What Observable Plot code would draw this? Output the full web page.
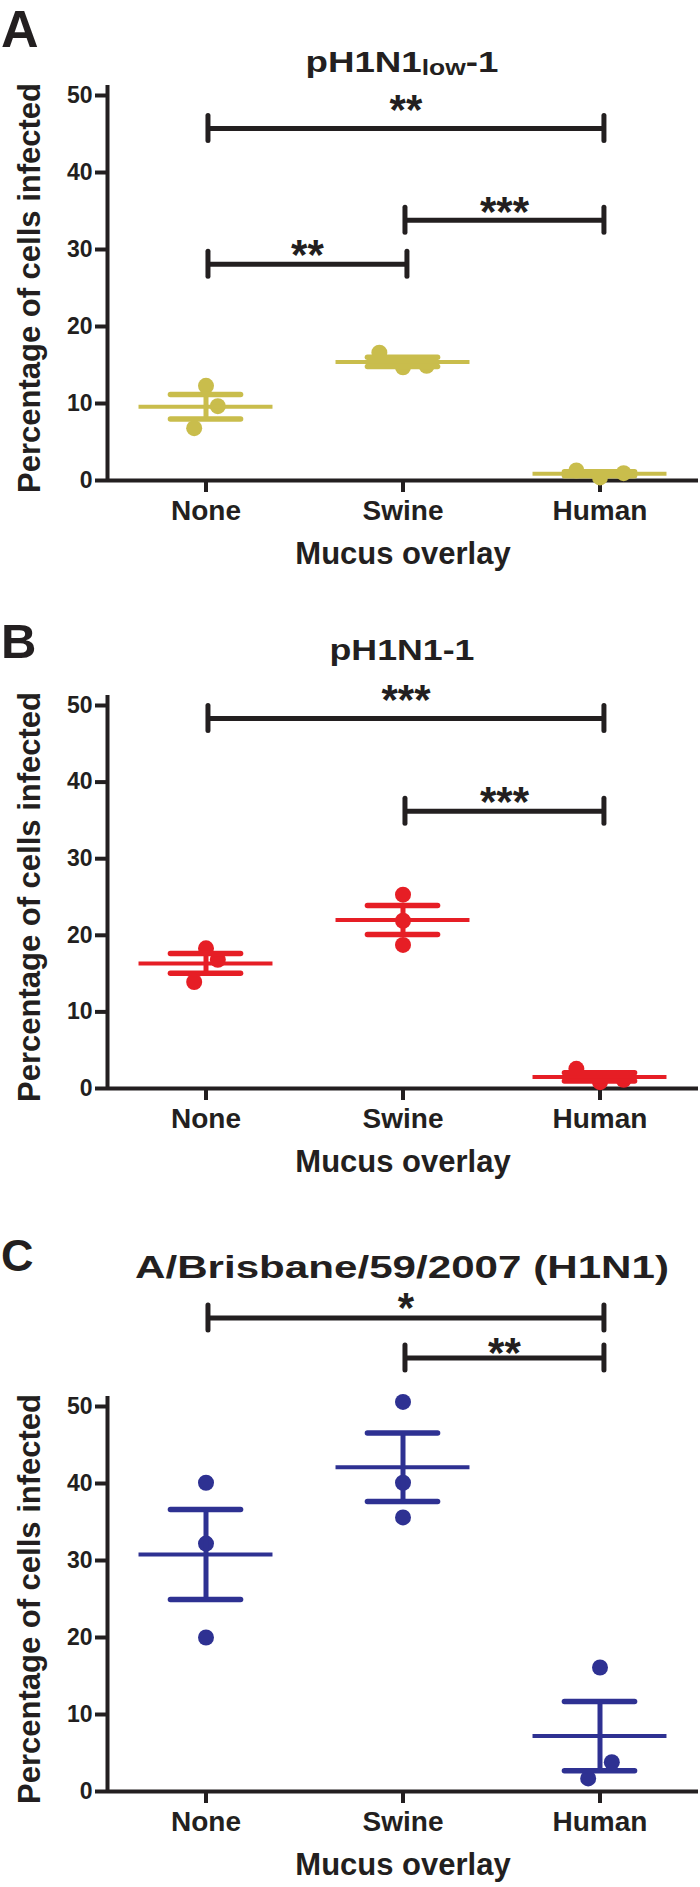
<!DOCTYPE html>
<html><head><meta charset="utf-8">
<script src="https://cdn.jsdelivr.net/npm/d3@7"></script>
<script src="https://cdn.jsdelivr.net/npm/@observablehq/plot@0.6"></script>
<style>
html,body{margin:0;padding:0;background:#fff;}
#chart{width:700px;}
#chart svg{display:block;}
</style></head><body><div id="chart"></div>
<script>
// ---- data ----
const categories = ["None", "Swine", "Human"];
const yTicks = [0, 10, 20, 30, 40, 50];
const yLabel = "Percentage of cells infected";
const xLabel = "Mucus overlay";

// Panel A: pH1N1low-1
const noneA = [12.3, 9.65, 6.8];
const swineA = [16.6, 14.7, 14.9];
const humanA = [1.3, 0.4, 0.95];
const sigA = [
  {from: "None", to: "Human", y: 45.7, labelY: 49.35, label: "**"},
  {from: "None", to: "Swine", y: 28.1, labelY: 30.5, label: "**"},
  {from: "Swine", to: "Human", y: 33.8, labelY: 36.1, label: "***"}
];
// Panel B: pH1N1-1
const noneB = [18.3, 16.8, 13.9];
const swineB = [25.3, 21.9, 18.75];
const humanB = [2.57, 0.83, 1.13];
const sigB = [
  {from: "None", to: "Human", y: 48.3, labelY: 52.0, label: "***"},
  {from: "Swine", to: "Human", y: 36.2, labelY: 38.7, label: "***"}
];
// Panel C: A/Brisbane/59/2007 (H1N1)
const noneC = [40.1, 32.2, 20.0];
const swineC = [50.6, 40.1, 35.6];
const humanC = [16.1, 3.8, 1.7];
const sigC = [
  {from: "None", to: "Human", y: 61.5, labelY: 64.0, label: "*"},
  {from: "Swine", to: "Human", y: 56.3, labelY: 58.2, label: "**"}
];

// ---- drawing ----
const DARK = "#231f20";
const FONT = "'Liberation Sans', Arial, Helvetica, sans-serif";

// GraphPad-like horizontal spreading of overlapping points (in slots)
function dodge(vals, ppu) {
  const idx = d3.range(vals.length).sort((a, b) => vals[b] - vals[a]);
  const off = new Array(vals.length).fill(0);
  const T = 23.5;
  const clusters = [];
  let cur = [idx[0]];
  for (let k = 1; k < idx.length; k++) {
    if ((vals[idx[k - 1]] - vals[idx[k]]) * ppu < T) cur.push(idx[k]);
    else { clusters.push(cur); cur = [idx[k]]; }
  }
  clusters.push(cur);
  for (const c of clusters) {
    let pattern;
    if (c.length === 1) pattern = [0];
    else if (c.length === 2) pattern = [0.5, -0.5];
    else {
      const span = (vals[c[0]] - vals[c[c.length - 1]]) * ppu;
      pattern = span < T ? [-1, 1, 0] : [0, 0.5, -0.5];
    }
    c.forEach((i, j) => off[i] = pattern[j] ?? 0);
  }
  return off;
}

function panel(cfg) {
  const {groups, sig, color, height, marginTop, marginBottom} = cfg;
  const ppu = (height - marginTop - marginBottom) / 50;
  const slot = 0.12, meanHalf = 0.34, capHalf = 0.178;
  const points = [], stats = [];
  groups.forEach((vals, i) => {
    const off = dodge(vals, ppu);
    vals.forEach((v, j) => points.push({x: i + off[j] * slot, y: v}));
    const mean = d3.mean(vals), sem = d3.deviation(vals) / Math.sqrt(vals.length);
    stats.push({i, mean, lo: mean - sem, hi: mean + sem});
  });
  const caps = stats.flatMap(s => [{i: s.i, y: s.lo}, {i: s.i, y: s.hi}]);
  const ci = c => categories.indexOf(c);
  const capH = 12.5 / ppu;
  const ends = sig.flatMap(s => [{x: ci(s.from) + 0.01, y: s.y}, {x: ci(s.to) + 0.02, y: s.y}]);

  const plot = Plot.plot({
    width: 700, height, marginTop, marginBottom, marginLeft: 107, marginRight: 2,
    style: {fontFamily: FONT, color: DARK, background: "#fff", overflow: "visible"},
    x: {domain: [-0.5, 2.5], axis: null},
    y: {domain: [0, 50], axis: null},
    marks: [
      Plot.ruleY([0], {stroke: DARK, strokeWidth: 4}),
      Plot.ruleX([-0.5], {y1: 0, y2: 51.3, stroke: DARK, strokeWidth: 4}),
      Plot.axisY({ticks: yTicks, tickSize: 12, tickPadding: 3, fontSize: 23, fontWeight: "bold",
                  strokeWidth: 4, label: null}),
      Plot.axisX({ticks: [0, 1, 2], tickFormat: i => categories[i], tickSize: 12, tickPadding: 8,
                  fontSize: 28, fontWeight: "bold", strokeWidth: 4, label: null}),
      Plot.text([yLabel], {text: d => d, frameAnchor: "left", textAnchor: "middle", lineAnchor: "middle",
                  rotate: -90, dx: -77, fontSize: 31, fontWeight: "bold", fill: DARK}),
      Plot.text([xLabel], {text: d => d, frameAnchor: "bottom", textAnchor: "middle", lineAnchor: "middle",
                  dy: 74, fontSize: 31, fontWeight: "bold", fill: DARK}),
      // data
      Plot.dot(points, {x: "x", y: "y", r: 8, fill: color, stroke: "none"}),
      Plot.ruleY(stats, {y: "mean", x1: d => d.i - meanHalf, x2: d => d.i + meanHalf,
                  stroke: color, strokeWidth: 4}),
      Plot.ruleX(stats, {x: "i", y1: "lo", y2: "hi", stroke: color, strokeWidth: 5}),
      Plot.ruleY(caps, {y: "y", x1: d => d.i - capHalf, x2: d => d.i + capHalf,
                  stroke: color, strokeWidth: 5.5, strokeLinecap: "round"}),
      // significance brackets
      Plot.ruleY(sig, {y: "y", x1: d => ci(d.from) + 0.01, x2: d => ci(d.to) + 0.02,
                  stroke: DARK, strokeWidth: 5}),
      Plot.ruleX(ends, {x: "x", y1: d => d.y - capH, y2: d => d.y + capH,
                  stroke: DARK, strokeWidth: 5, strokeLinecap: "round"}),
      Plot.text(sig, {x: d => (ci(d.from) + ci(d.to)) / 2 + 0.015, y: "labelY", text: "label",
                  fontSize: 42, fontWeight: "bold", dy: 10, fill: DARK})
    ]
  });

  const svg = d3.select(plot);
  svg.append("text").attr("x", 1).attr("y", cfg.letterBaseline)
    .attr("text-anchor", "start")
    .attr("font-size", cfg.letterSize).attr("font-weight", "bold").attr("fill", DARK)
    .attr("font-family", FONT).text(cfg.letter);
  const t = svg.append("text").attr("x", 402).attr("y", cfg.titleBaseline)
    .attr("text-anchor", "middle").attr("font-size", cfg.titleSize).attr("font-weight", "bold")
    .attr("fill", DARK).attr("font-family", FONT)
    .attr("textLength", cfg.titleLength).attr("lengthAdjust", "spacingAndGlyphs");
  cfg.title.forEach(p => {
    const ts = t.append("tspan").text(p.text);
    if (p.sub) ts.attr("font-size", cfg.titleSize * 0.72).attr("dy", 3);
    else if (p.after) ts.attr("dy", -3);
  });
  return plot;
}

const chart = document.getElementById("chart");
chart.append(panel({
  groups: [noneA, swineA, humanA], sig: sigA, color: "#c9bd4c",
  height: 585, marginTop: 95, marginBottom: 105,
  letter: "A", letterBaseline: 47, letterSize: 52,
  title: [{text: "pH1N1"}, {text: "low", sub: true}, {text: "-1", after: true}],
  titleBaseline: 72, titleSize: 30, titleLength: 193
}));
chart.append(panel({
  groups: [noneB, swineB, humanB], sig: sigB, color: "#e61e25",
  height: 605, marginTop: 120, marginBottom: 102,
  letter: "B", letterBaseline: 73, letterSize: 49,
  title: [{text: "pH1N1-1"}],
  titleBaseline: 75, titleSize: 30, titleLength: 145
}));
chart.append(panel({
  groups: [noneC, swineC, humanC], sig: sigC, color: "#2e3192",
  height: 697, marginTop: 216, marginBottom: 96,
  letter: "C", letterBaseline: 81, letterSize: 45,
  title: [{text: "A/Brisbane/59/2007 (H1N1)"}],
  titleBaseline: 88, titleSize: 32, titleLength: 534
}));
</script></body></html>
